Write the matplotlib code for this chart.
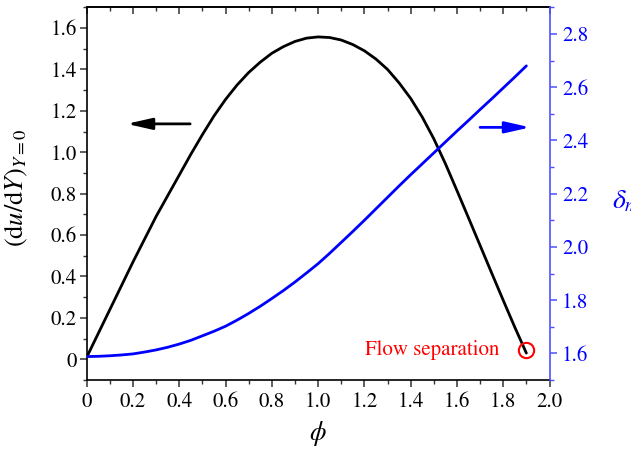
import numpy as np
import matplotlib
matplotlib.use("Agg")
import matplotlib.pyplot as plt
from matplotlib.ticker import MultipleLocator, FuncFormatter

plt.rcParams['font.family'] = ['STIXGeneral', 'DejaVu Serif']
plt.rcParams['mathtext.fontset'] = 'stix'

phi = [0.0, 0.05, 0.1, 0.15, 0.2, 0.25, 0.3, 0.35, 0.4, 0.45, 0.5,
       0.55, 0.6, 0.65, 0.7, 0.75, 0.8, 0.85, 0.9, 0.95, 1.0,
       1.05, 1.1, 1.15, 1.2, 1.25, 1.3, 1.35, 1.4, 1.45, 1.5,
       1.55, 1.6, 1.65, 1.7, 1.75, 1.8, 1.85, 1.9]
dudy = [0.01, 0.125, 0.24, 0.355, 0.47, 0.58, 0.69, 0.79, 0.89, 0.99, 1.085,
        1.175, 1.255, 1.325, 1.385, 1.435, 1.478, 1.51, 1.535, 1.551, 1.557,
        1.554, 1.542, 1.52, 1.49, 1.45, 1.40, 1.335, 1.26, 1.17, 1.065,
        0.945, 0.815, 0.683, 0.55, 0.417, 0.285, 0.155, 0.03]
delta_m = [1.588, 1.589, 1.591, 1.594, 1.598, 1.605, 1.613, 1.623, 1.635, 1.649, 1.666,
           1.683, 1.702, 1.725, 1.750, 1.777, 1.806, 1.836, 1.868, 1.902, 1.937,
           1.976, 2.017, 2.058, 2.100, 2.143, 2.186, 2.229, 2.271, 2.312, 2.353,
           2.394, 2.435, 2.475, 2.516, 2.556, 2.597, 2.638, 2.680]
sep_phi = 1.9
sep_val = 0.045

BLUE = '#0000ff'
fig = plt.figure(figsize=(6.31, 4.49), dpi=100)
ax = fig.add_axes([86.7/631, 69/449, (549.5-86.7)/631, (380-7.3)/449])
ax2 = ax.twinx()

ax.plot(phi, dudy, color='black', lw=2.0, solid_capstyle='round')
ax2.plot(phi, delta_m, color=BLUE, lw=2.0, solid_capstyle='round')
ax.plot([sep_phi], [sep_val], 'o', mfc='none', mec='red', ms=11, mew=1.5)
ax.text(1.785, sep_val, 'Flow separation', color='red', fontsize=15,
        ha='right', va='center')

ax.annotate('', xy=(0.173, 1.137), xytext=(0.447, 1.137),
            arrowprops=dict(arrowstyle='-|>,head_length=0.75,head_width=0.17',
                            mutation_scale=20, lw=2.0, color='black',
                            shrinkA=0, shrinkB=0))
ax2.annotate('', xy=(1.917, 2.449), xytext=(1.70, 2.449),
             arrowprops=dict(arrowstyle='-|>,head_length=0.75,head_width=0.17',
                             mutation_scale=20, lw=2.0, color=BLUE,
                             shrinkA=0, shrinkB=0))

ax.set_xlim(0, 2.0)
ax.set_ylim(-0.1, 1.7)
ax2.set_ylim(1.5, 2.9)

fmt0 = FuncFormatter(lambda v, p: '0' if abs(v) < 1e-9 else f'{v:.1f}')
ax.xaxis.set_major_locator(MultipleLocator(0.2))
ax.xaxis.set_minor_locator(MultipleLocator(0.1))
ax.xaxis.set_major_formatter(fmt0)
ax.yaxis.set_major_locator(MultipleLocator(0.2))
ax.yaxis.set_minor_locator(MultipleLocator(0.1))
ax.yaxis.set_major_formatter(fmt0)
ax2.yaxis.set_major_locator(MultipleLocator(0.2))
ax2.yaxis.set_minor_locator(MultipleLocator(0.1))
ax2.yaxis.set_major_formatter(FuncFormatter(lambda v, p: f'{v:.1f}'))

for s in ['left', 'bottom', 'top']:
    ax.spines[s].set_linewidth(1.2)
ax.spines['right'].set_visible(False)
ax2.spines['right'].set_color('#5050ff')
ax2.spines['right'].set_linewidth(1.2)
for s in ['left', 'bottom', 'top']:
    ax2.spines[s].set_visible(False)

ax.tick_params(axis='both', which='major', direction='out', length=5, width=1.1,
               labelsize=15, color='#333333')
ax.tick_params(axis='both', which='minor', direction='out', length=3, width=1.0,
               color='#333333')
ax.tick_params(axis='x', which='both', pad=4)
ax.tick_params(axis='y', which='both', pad=2, right=False)

top = ax.secondary_xaxis('top')
top.xaxis.set_major_locator(MultipleLocator(0.2))
top.xaxis.set_minor_locator(MultipleLocator(0.1))
top.tick_params(which='major', direction='in', length=5, width=1.1, labeltop=False,
                color='#333333')
top.tick_params(which='minor', direction='in', length=3, width=1.0, color='#333333')
top.spines['top'].set_linewidth(1.2)

ax2.tick_params(axis='y', which='major', direction='out', length=5, width=1.1,
                colors=BLUE, labelsize=15, pad=4)
ax2.tick_params(axis='y', which='minor', direction='out', length=3, width=1.0,
                color='#5050ff')
ax2.tick_params(axis='y', which='both', color='#5050ff')

ax.set_xlabel(r'$\phi$', fontsize=19, labelpad=5)
ax.set_ylabel(r'$(\mathrm{d}u/\mathrm{d}Y)_{Y=0}$', fontsize=19)
ax.yaxis.set_label_coords(-0.122, 0.515)
ax2.set_ylabel(r'$\delta_m$', fontsize=20, color=BLUE, rotation=0,
               ha='left', va='center')
ax2.yaxis.set_label_coords(1.135, 0.48)

fig.savefig('out.png', dpi=100)
